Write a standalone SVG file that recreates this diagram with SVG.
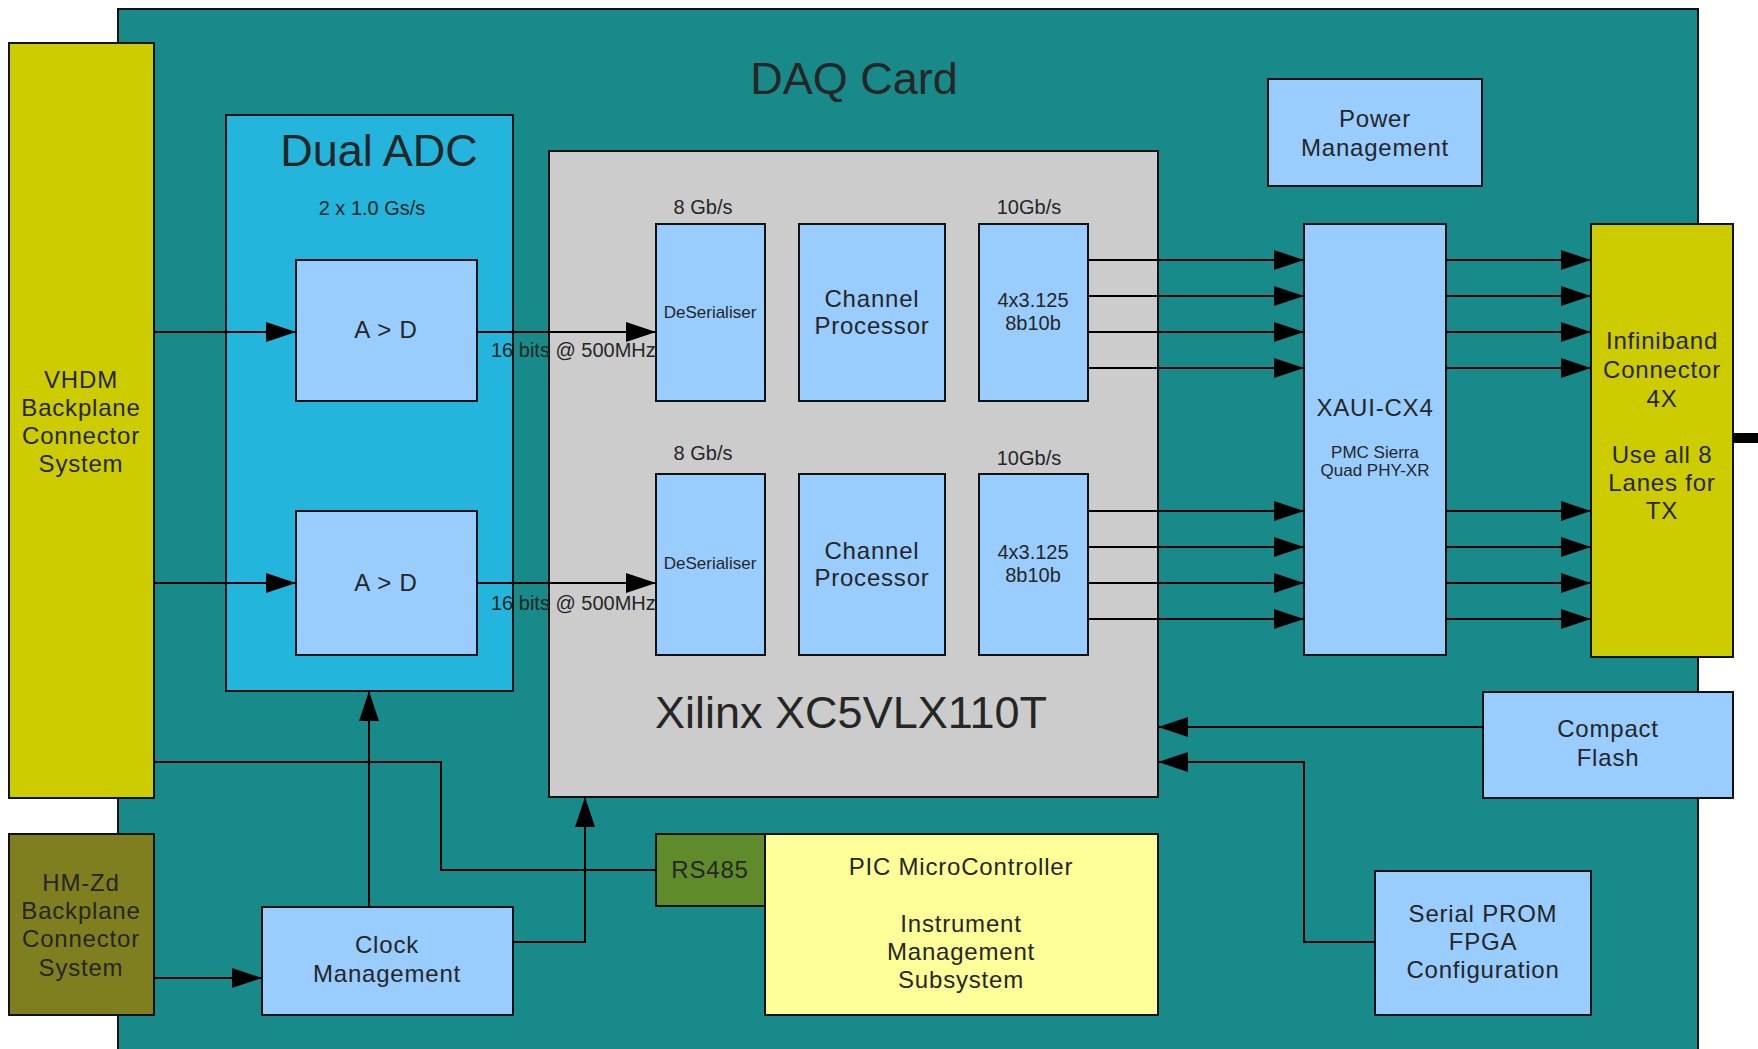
<svg xmlns="http://www.w3.org/2000/svg" width="1758" height="1049" viewBox="0 0 1758 1049">
<defs>
<style>
.box{stroke:#111;stroke-width:2}
.teal{fill:#198a8a}
.lb{fill:#99ccff}
.yel{fill:#cccc00}
.olive{fill:#7f7f1f}
.adc{fill:#23b5db}
.gray{fill:#cccccc}
.pic{fill:#ffff99}
.rs{fill:#5f8b2a}
text{font-family:"Liberation Sans",Arial,sans-serif;fill:#262626;text-anchor:middle}
.t24{font-size:24px;letter-spacing:0.8px}
.t20{font-size:20px}
.t17{font-size:17px}
.big{font-size:45px}
.ln{fill:none;stroke:#000;stroke-width:2}
.arr{marker-end:url(#ah)}
</style>
<marker id="ah" markerUnits="userSpaceOnUse" markerWidth="30" markerHeight="20" viewBox="0 0 30 20" refX="30" refY="10" orient="auto">
<path d="M0,0 L30,10 L0,20 z" fill="#000"/>
</marker>
</defs>
<rect width="1758" height="1049" fill="#ffffff"/>

<g id="daq-card">
<rect class="box teal" x="118" y="9" width="1580" height="1060"/>
<text class="big" x="854" y="94">DAQ Card</text>
</g>

<g id="vhdm">
<rect class="box yel" x="9" y="43" width="145" height="755"/>
<text class="t24" x="81" y="388">VHDM</text>
<text class="t24" x="81" y="416">Backplane</text>
<text class="t24" x="81" y="444">Connector</text>
<text class="t24" x="81" y="472">System</text>
</g>

<g id="hmzd">
<rect class="box olive" x="9" y="834" width="145" height="181"/>
<text class="t24" x="81" y="891">HM-Zd</text>
<text class="t24" x="81" y="919">Backplane</text>
<text class="t24" x="81" y="947">Connector</text>
<text class="t24" x="81" y="976">System</text>
</g>

<g id="dual-adc">
<rect class="box adc" x="226" y="115" width="287" height="576"/>
<text class="big" x="379" y="166">Dual ADC</text>
<text class="t20" x="372" y="215">2 x 1.0 Gs/s</text>
</g>

<g id="adc1">
<rect class="box lb" x="296" y="260" width="181" height="141"/>
<text class="t24" x="386" y="338">A &gt; D</text>
</g>
<g id="adc2">
<rect class="box lb" x="296" y="511" width="181" height="144"/>
<text class="t24" x="386" y="591">A &gt; D</text>
</g>

<g id="xilinx">
<rect class="box gray" x="549" y="151" width="609" height="646"/>
<text class="big" x="851" y="728">Xilinx XC5VLX110T</text>
<text class="t20" x="703" y="214">8 Gb/s</text>
<text class="t20" x="1029" y="214">10Gb/s</text>
<text class="t20" x="703" y="460">8 Gb/s</text>
<text class="t20" x="1029" y="465">10Gb/s</text>
</g>

<g id="deser1">
<rect class="box lb" x="656" y="224" width="109" height="177"/>
<text class="t17" x="710" y="318">DeSerialiser</text>
</g>
<g id="chproc1">
<rect class="box lb" x="799" y="224" width="146" height="177"/>
<text class="t24" x="872" y="307">Channel</text>
<text class="t24" x="872" y="334">Processor</text>
</g>
<g id="enc1">
<rect class="box lb" x="979" y="224" width="109" height="177"/>
<text class="t20" x="1033" y="307">4x3.125</text>
<text class="t20" x="1033" y="330">8b10b</text>
</g>

<g id="deser2">
<rect class="box lb" x="656" y="474" width="109" height="181"/>
<text class="t17" x="710" y="569">DeSerialiser</text>
</g>
<g id="chproc2">
<rect class="box lb" x="799" y="474" width="146" height="181"/>
<text class="t24" x="872" y="559">Channel</text>
<text class="t24" x="872" y="586">Processor</text>
</g>
<g id="enc2">
<rect class="box lb" x="979" y="474" width="109" height="181"/>
<text class="t20" x="1033" y="559">4x3.125</text>
<text class="t20" x="1033" y="582">8b10b</text>
</g>

<g id="power">
<rect class="box lb" x="1268" y="79" width="214" height="107"/>
<text class="t24" x="1375" y="127">Power</text>
<text class="t24" x="1375" y="156">Management</text>
</g>

<g id="xaui">
<rect class="box lb" x="1304" y="224" width="142" height="431"/>
<text class="t24" x="1375" y="416">XAUI-CX4</text>
<text class="t17" x="1375" y="458">PMC Sierra</text>
<text class="t17" x="1375" y="476">Quad PHY-XR</text>
</g>

<g id="infiniband">
<rect class="box yel" x="1591" y="224" width="142" height="433"/>
<rect x="1733" y="433" width="30" height="10" fill="#000"/>
<text class="t24" x="1662" y="349">Infiniband</text>
<text class="t24" x="1662" y="378">Connector</text>
<text class="t24" x="1662" y="407">4X</text>
<text class="t24" x="1662" y="463">Use all 8</text>
<text class="t24" x="1662" y="491">Lanes for</text>
<text class="t24" x="1662" y="519">TX</text>
</g>

<g id="compact-flash">
<rect class="box lb" x="1483" y="692" width="250" height="106"/>
<text class="t24" x="1608" y="737">Compact</text>
<text class="t24" x="1608" y="766">Flash</text>
</g>

<g id="serial-prom">
<rect class="box lb" x="1375" y="871" width="216" height="144"/>
<text class="t24" x="1483" y="922">Serial PROM</text>
<text class="t24" x="1483" y="950">FPGA</text>
<text class="t24" x="1483" y="978">Configuration</text>
</g>

<g id="pic">
<rect class="box pic" x="765" y="834" width="393" height="181"/>
<text class="t24" x="961" y="875">PIC MicroController</text>
<text class="t24" x="961" y="932">Instrument</text>
<text class="t24" x="961" y="960">Management</text>
<text class="t24" x="961" y="988">Subsystem</text>
</g>

<g id="rs485">
<rect class="box rs" x="656" y="834" width="109" height="72"/>
<text class="t24" x="710" y="878">RS485</text>
</g>

<g id="clock">
<rect class="box lb" x="262" y="907" width="251" height="108"/>
<text class="t24" x="387" y="953">Clock</text>
<text class="t24" x="387" y="982">Management</text>
</g>

<g id="connectors">
<path class="ln arr" d="M154,332 H296"/>
<path class="ln arr" d="M154,583 H296"/>
<path class="ln arr" d="M477,332 H656"/>
<path class="ln arr" d="M477,583 H656"/>
<path class="ln arr" d="M1088,260 H1304"/>
<path class="ln arr" d="M1088,296 H1304"/>
<path class="ln arr" d="M1088,332 H1304"/>
<path class="ln arr" d="M1088,368 H1304"/>
<path class="ln arr" d="M1088,511 H1304"/>
<path class="ln arr" d="M1088,547 H1304"/>
<path class="ln arr" d="M1088,583 H1304"/>
<path class="ln arr" d="M1088,619 H1304"/>
<path class="ln arr" d="M1446,260 H1591"/>
<path class="ln arr" d="M1446,296 H1591"/>
<path class="ln arr" d="M1446,332 H1591"/>
<path class="ln arr" d="M1446,368 H1591"/>
<path class="ln arr" d="M1446,511 H1591"/>
<path class="ln arr" d="M1446,547 H1591"/>
<path class="ln arr" d="M1446,583 H1591"/>
<path class="ln arr" d="M1446,619 H1591"/>
<path class="ln arr" d="M1483,727 H1158"/>
<path class="ln arr" d="M1375,942 H1304 V762 H1158"/>
<path class="ln" d="M154,762 H441 V870 H656"/>
<path class="ln arr" d="M369,907 V691"/>
<path class="ln arr" d="M513,942 H585 V797"/>
<path class="ln arr" d="M154,978 H262"/>
<text class="t20" x="491" y="357" style="text-anchor:start">16 bits @ 500MHz</text>
<text class="t20" x="491" y="610" style="text-anchor:start">16 bits @ 500MHz</text>
</g>
</svg>
